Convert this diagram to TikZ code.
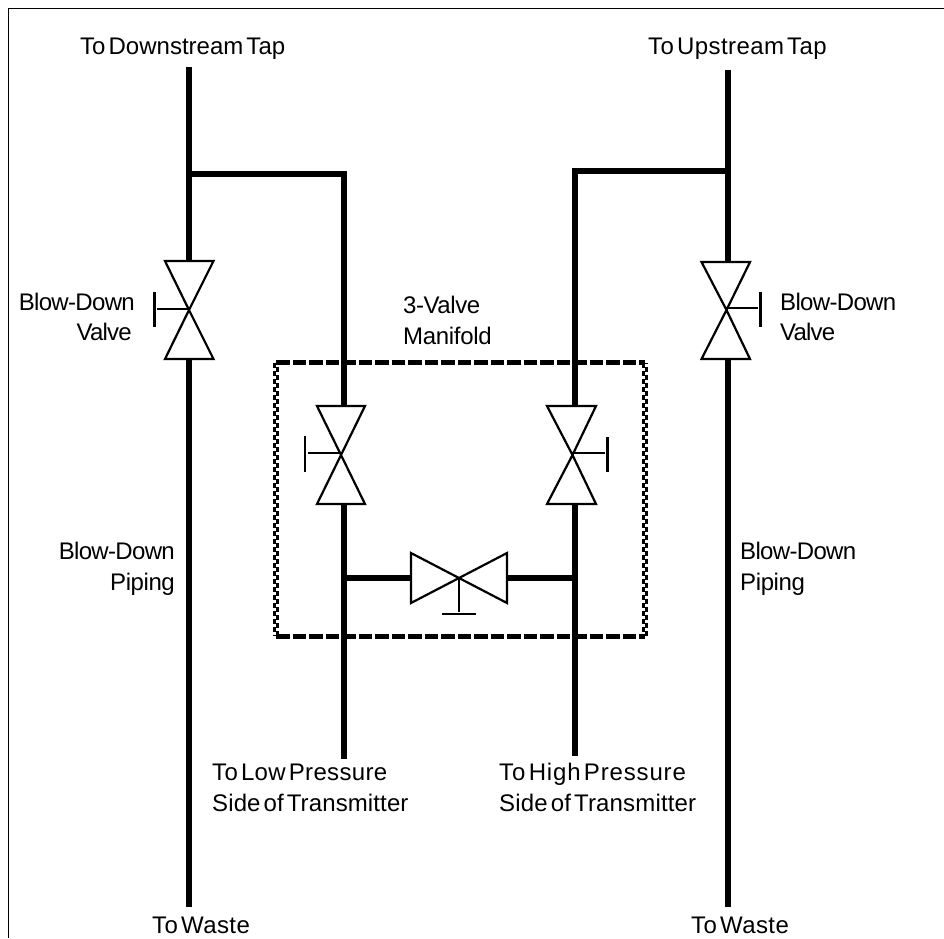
\documentclass[tikz,border=0pt]{standalone}
\usepackage{fontspec}
\setmainfont[WordSpace=0.45]{Liberation Sans}
\newcommand{\ls}[2]{{\addfontfeature{LetterSpace=#1}#2}}
\begin{document}
\begin{tikzpicture}[x=1pt,y=-1pt,
  pipe/.style={line width=6pt,black,line cap=butt},
  valveline/.style={line width=2.2pt,black,line join=miter},
  handle/.style={line width=2pt,black},
  hbar/.style={line width=2.6pt,black},
  frameline/.style={line width=1.4pt,black},
  txtw/.style={anchor=base west,inner sep=0pt,font=\fontsize{24}{28}\selectfont},
  txte/.style={anchor=base east,inner sep=0pt,font=\fontsize{24}{28}\selectfont},
  boxh/.style={line width=5pt,black,dash pattern=on 13.5pt off 3pt},
  boxv/.style={line width=2.7pt,black,dash pattern=on 5.5pt off 2.5pt},
  boxvb/.style={line width=2.7pt,black,dash pattern=on 5.5pt off 2.5pt,dash phase=4pt}]
\useasboundingbox (0,0) rectangle (944,938);
\fill[white] (0,0) rectangle (944,938);
% frame
\coordinate (fa) at (8.5,938);
\coordinate (fb) at (8.5,8.5);
\coordinate (fc) at (944,8.5);
\draw[frameline] (fa) -- (fb) -- (fc);
% pipe junctions and ends
\coordinate (ltop) at (189,67);
\coordinate (lj) at (189,174);
\coordinate (lvt) at (189,261);
\coordinate (lvb) at (189,359);
\coordinate (lbot) at (189,907);
\coordinate (rtop) at (728,70);
\coordinate (rj) at (728,171);
\coordinate (rvt) at (728,262);
\coordinate (rvb) at (728,359);
\coordinate (rbot) at (728,907);
\coordinate (ilc) at (344,174);
\coordinate (ilvt) at (344,406);
\coordinate (ilvb) at (344,504);
\coordinate (ilj) at (344,578);
\coordinate (ilbot) at (344,759);
\coordinate (irc) at (575,171);
\coordinate (irvt) at (575,406);
\coordinate (irvb) at (575,504);
\coordinate (irj) at (575,578);
\coordinate (irbot) at (575,756);
\coordinate (hvl) at (411,578);
\coordinate (hvr) at (507,578);
% pipes
\draw[pipe] (ltop) -- (lvt);
\draw[pipe] (lvb) -- (lbot);
\draw[pipe] (rtop) -- (rvt);
\draw[pipe] (rvb) -- (rbot);
\draw[pipe,line join=miter] ([xshift=-3pt]lj) -- (ilc) -- (ilvt);
\draw[pipe,line join=miter] ([xshift=3pt]rj) -- (irc) -- (irvt);
\draw[pipe] (ilvb) -- (ilbot);
\draw[pipe] (irvb) -- (irbot);
\draw[pipe] ([xshift=-3pt]ilj) -- (hvl);
\draw[pipe] (hvr) -- ([xshift=3pt]irj);
% manifold box
\coordinate (b1) at (276,362.5);
\coordinate (b2) at (645,362.5);
\coordinate (b3) at (645,636);
\coordinate (b4) at (276,636);
\draw[boxh] (b1) -- (b2);
\draw[boxh] (b4) -- (b3);
\draw[boxv] ([xshift=-1.25pt]b1) -- ([xshift=-1.25pt]b4);
\draw[boxvb] ([xshift=1.25pt]b1) -- ([xshift=1.25pt]b4);
\draw[boxv] ([xshift=-1.25pt]b2) -- ([xshift=-1.25pt]b3);
\draw[boxvb] ([xshift=1.25pt]b2) -- ([xshift=1.25pt]b3);
% valves
\coordinate (vl) at (189,310);
\draw[valveline] (165,261) -- (213.5,261) -- (vl) -- (213.5,359) -- (165,359) -- (vl) -- cycle;
\coordinate (vls) at (157,308.5);
\draw[handle] (vls) -- (vl |- vls);
\coordinate (vlb1) at (154.5,292);
\coordinate (vlb2) at (154.5,327);
\draw[hbar] (vlb1) -- (vlb2);
\coordinate (vr) at (726.5,310);
\draw[valveline] (701.5,262) -- (750,262) -- (vr) -- (750,359) -- (701.5,359) -- (vr) -- cycle;
\coordinate (vrs) at (758,308);
\draw[handle] (vr |- vrs) -- (vrs);
\coordinate (vrb1) at (760.5,292);
\coordinate (vrb2) at (760.5,327);
\draw[hbar] (vrb1) -- (vrb2);
\coordinate (vil) at (341,455);
\draw[valveline] (317,406) -- (365,406) -- (vil) -- (365,504) -- (317,504) -- (vil) -- cycle;
\coordinate (vils) at (308,453);
\draw[handle] (vils) -- (vil |- vils);
\coordinate (vilb1) at (305,436);
\coordinate (vilb2) at (305,472);
\draw[hbar] (vilb1) -- (vilb2);
\coordinate (vir) at (572.5,455);
\draw[valveline] (547,406) -- (596,406) -- (vir) -- (596,504) -- (547,504) -- (vir) -- cycle;
\coordinate (virs) at (605,452.5);
\draw[handle] (vir |- virs) -- (virs);
\coordinate (virb1) at (607.5,437);
\coordinate (virb2) at (607.5,472);
\draw[hbar] (virb1) -- (virb2);
\coordinate (vh) at (459,578);
\draw[valveline] (411,553) -- (411,603) -- (vh) -- (507,553) -- (507,603) -- (vh) -- cycle;
\coordinate (vhs) at (459,612);
\draw[handle] (vh) -- (vhs);
\coordinate (vhb1) at (442,614);
\coordinate (vhb2) at (476,614);
\draw[hbar] (vhb1) -- (vhb2);
% labels
\node[txtw] (t1) at (80,54) {\ls{0.1}{To Downstream Tap}};
\node[txtw] (t2) at (648,54) {\ls{1.7}{To Upstream Tap}};
\node[txte] (t3) at (135,310) {\ls{-2.8}{Blow-Down}};
\node[txte] (t4) at (132,340) {\ls{-3.3}{Valve}};
\node[txtw] (t5) at (780,310) {\ls{-2.8}{Blow-Down}};
\node[txtw] (t6) at (780,340) {\ls{-3.3}{Valve}};
\node[txtw] (t7) at (403,313) {\ls{-1.8}{3-Valve}};
\node[txtw] (t8) at (403,344) {\ls{-1.3}{Manifold}};
\node[txte] (t9) at (175,559) {\ls{-2.8}{Blow-Down}};
\node[txte] (t10) at (175,590) {\ls{-1.7}{Piping}};
\node[txtw] (t11) at (740,559) {\ls{-2.8}{Blow-Down}};
\node[txtw] (t12) at (740,590) {\ls{-1.7}{Piping}};
\node[txtw] (t13) at (212,780) {\ls{1.4}{To Low Pressure}};
\node[txtw] (t14) at (212,811) {\ls{0.5}{Side of Transmitter}};
\node[txtw] (t15) at (499,780) {\ls{3.5}{To High Pressure}};
\node[txtw] (t16) at (499,811) {\ls{0.7}{Side of Transmitter}};
\node[txtw] (t17) at (152,933) {\ls{1.7}{To Waste}};
\node[txtw] (t18) at (691,933) {\ls{1.7}{To Waste}};
\end{tikzpicture}
\end{document}
